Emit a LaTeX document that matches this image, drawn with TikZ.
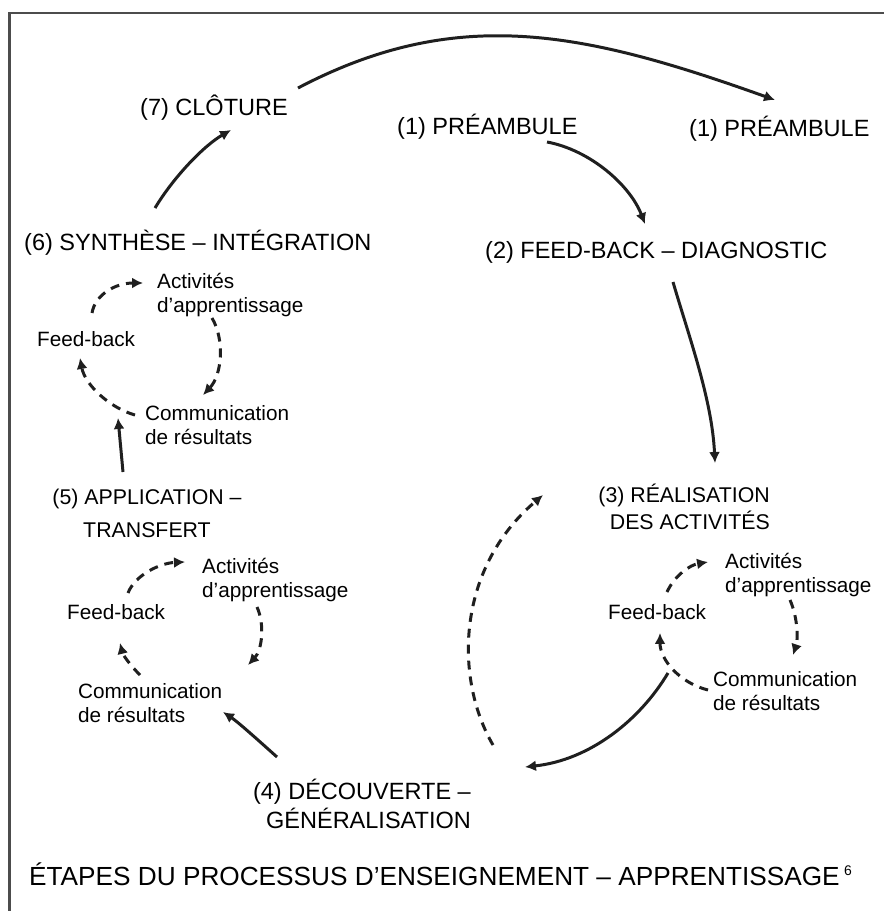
\documentclass[tikz,border=0pt]{standalone}
\usepackage{fontspec}
\setmainfont{Liberation Sans}
\usetikzlibrary{arrows.meta}
\begin{document}
\begin{tikzpicture}[x=1bp,y=-1bp,
  head/.style={font=\fontsize{23.6}{28}\selectfont, inner sep=0pt, anchor=base west},
  heads/.style={font=\fontsize{21.4}{27}\selectfont, inner sep=0pt},
  lab/.style={font=\fontsize{20.8}{23.5}\selectfont, inner sep=0pt, align=left, anchor=base west},
  conn/.style={line width=3pt, draw=black!88, -{Latex[length=11pt,width=11pt]}},
  dconn/.style={conn, dash pattern=on 9pt off 7pt}]
\useasboundingbox (0,0) rectangle (884,911);
\fill[white] (0,0) rectangle (884,911);
% frame
\draw[line width=2.2pt, draw=black!70] (884,13) -- (9.5,13) -- (9.5,911);

% headings (multi-line nodes: base = last line)
\node[head] (n7) at (140,115) {(7) CLÔTURE};
\node[head] (n1) at (397,134) {(1) PRÉAMBULE};
\node[head] (n1b) at (689,136) {(1) PRÉAMBULE};
\node[head] (n6) at (24,250) {(6) SYNTHÈSE – INTÉGRATION};
\node[head] (n2) at (485,258) {(2) FEED-BACK – DIAGNOSTIC};
\node[heads, align=right, anchor=base east] (n3) at (770,529) {(3) RÉALISATION\\DES ACTIVITÉS};
\node[heads, align=center, anchor=base, font=\fontsize{21.4}{33}\selectfont] (n5) at (147,537) {(5) APPLICATION –\\TRANSFERT};
\node[head, align=right, anchor=base east, font=\fontsize{23.6}{29}\selectfont] (n4) at (471,828) {(4) DÉCOUVERTE –\\GÉNÉRALISATION};

% upper-left loop
\node[lab] (ua) at (157,312) {Activités\\d’apprentissage};
\node[lab] (uf) at (37,346) {Feed-back};
\node[lab] (uc) at (145,444) {Communication\\de résultats};
% lower-left loop
\node[lab] (la) at (202,597) {Activités\\d’apprentissage};
\node[lab] (lf) at (67,619) {Feed-back};
\node[lab] (lc) at (78,722) {Communication\\de résultats};
% right loop
\node[lab] (ra) at (725,592) {Activités\\d’apprentissage};
\node[lab] (rf) at (608,619) {Feed-back};
\node[lab] (rc) at (713,710) {Communication\\de résultats};

% title
\node[inner sep=0pt, anchor=base west, font=\fontsize{26.3}{30}\selectfont] (title) at (29,885)
  {ÉTAPES DU PROCESSUS D’ENSEIGNEMENT – APPRENTISSAGE\,\raisebox{10pt}{\fontsize{14}{14}\selectfont 6}};

% connector end points
\coordinate (c7s) at (298,88);   \coordinate (c1bt) at (775,100);
\coordinate (c1s) at (547,142);  \coordinate (c2t) at (645,224);
\coordinate (c6s) at (155,208);  \coordinate (c7t) at (231,130);
\coordinate (c2s) at (673,282);  \coordinate (c3t) at (715,463);
\coordinate (c4s) at (493,745);  \coordinate (c3tb) at (543,495);
\coordinate (crs) at (668,673);  \coordinate (c4t) at (525,767);
\coordinate (c4s2) at (277,757); \coordinate (clct) at (223,712);
\coordinate (c5s) at (123,472);  \coordinate (cuct) at (118,418);

% main connectors
\draw[conn] (c7s) .. controls (458,4) and (585,32) .. (c1bt);
\draw[conn] (c1s) .. controls (590,150) and (630,185) .. (c2t);
\draw[conn] (c6s) .. controls (175,175) and (205,145) .. (c7t);
\draw[conn] (c2s) .. controls (690,340) and (712,400) .. (c3t);
\draw[dconn] (c4s) .. controls (455,680) and (455,570) .. (c3tb);
\draw[conn] (crs) .. controls (640,720) and (590,760) .. (c4t);
\draw[conn] (c4s2) .. controls (258,740) and (238,722) .. (clct);
\draw[conn] (c5s) -- (cuct);

% upper-left loop connectors
\coordinate (uf1) at (92,313);  \coordinate (ua1) at (143,283);
\coordinate (ua2) at (212,318); \coordinate (uc1) at (203,395);
\coordinate (uc2) at (135,415); \coordinate (uf2) at (80,358);
\draw[dconn] (uf1) .. controls (95,295) and (115,283) .. (ua1);
\draw[dconn] (ua2) .. controls (225,340) and (222,375) .. (uc1);
\draw[dconn] (uc2) .. controls (110,408) and (85,385) .. (uf2);

% lower-left loop connectors
\coordinate (lf1) at (128,593); \coordinate (la1) at (185,562);
\coordinate (la2) at (257,607); \coordinate (lc1) at (248,665);
\coordinate (lc2) at (140,675); \coordinate (lf2) at (120,643);
\draw[dconn] (lf1) .. controls (135,575) and (160,563) .. (la1);
\draw[dconn] (la2) .. controls (265,625) and (262,650) .. (lc1);
\draw[dconn] (lc2) .. controls (130,665) and (123,655) .. (lf2);

% right loop connectors
\coordinate (rf1) at (667,592); \coordinate (ra1) at (708,562);
\coordinate (ra2) at (790,600); \coordinate (rc1) at (793,655);
\coordinate (rc2) at (708,690); \coordinate (rf2) at (660,633);
\draw[dconn] (rf1) .. controls (675,575) and (690,565) .. (ra1);
\draw[dconn] (ra2) .. controls (798,618) and (798,640) .. (rc1);
\draw[dconn] (rc2) .. controls (680,683) and (660,660) .. (rf2);
\end{tikzpicture}
\end{document}
